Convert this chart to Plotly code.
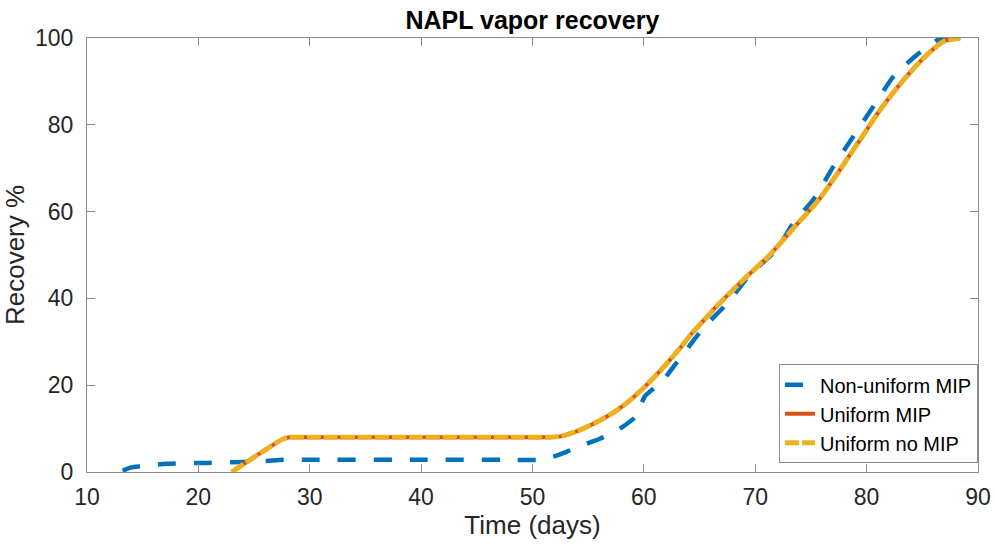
import plotly.graph_objects as go

# Non-uniform MIP
nu_x = [13.2, 13.9, 15.0, 17.2, 20.8, 24.0, 26.0, 27.6, 30.0, 40.0, 48.0, 50.5, 51.8, 53.0, 54.5,
        56.0, 57.2, 58.2, 59.2, 59.65, 60.1, 61.0, 61.75, 62.7, 63.7, 64.6, 65.6, 67.6,
        69.5, 71.9, 73.4, 75.2, 77.0, 78.8, 80.6, 82.4, 84.5, 86.6, 87.6]
nu_y = [0.3, 1.0, 1.4, 1.9, 2.1, 2.3, 2.5, 2.8, 2.8, 2.8, 2.8, 2.8, 3.5, 4.6, 6.2,
        7.6, 9.0, 10.6, 12.6, 15.0, 17.5, 19.5, 21.2, 24.4, 27.7, 30.8, 33.9, 39.2,
        45.4, 51.2, 57.3, 62.7, 70.3, 77.3, 84.2, 91.1, 96.1, 99.9, 100.3]

# Uniform MIP / Uniform no MIP (identical curves)
u_x = [23.0, 27.6, 28.2, 30.0, 40.0, 50.0, 51.5, 52.5, 54.0, 56.0, 57.4, 58.7, 59.95, 61.1,
       62.2, 63.3, 64.3, 65.4, 66.5, 68.9, 71.3, 73.4, 75.7, 78.2, 80.0, 81.2, 83.3, 85.4,
       86.9, 88.4]
u_y = [0.0, 7.6, 8.0, 8.0, 8.0, 8.0, 8.0, 8.2, 9.4, 11.8, 13.9, 16.4, 19.3, 22.3,
       25.4, 28.7, 31.9, 35.0, 38.1, 44.2, 50.0, 56.1, 62.7, 71.9, 78.8, 83.4, 90.3, 96.1,
       99.2, 100.0]

x_ticks = [10, 20, 30, 40, 50, 60, 70, 80, 90]
y_ticks = [0, 20, 40, 60, 80, 100]

fig = go.Figure()
fig.add_trace(go.Scatter(x=nu_x, y=nu_y, mode="lines", name="Non-uniform MIP",
                         line=dict(color="#0072BD", width=4.5, dash="18px,18px",
                                   shape="spline", smoothing=0.6)))
fig.add_trace(go.Scatter(x=u_x, y=u_y, mode="lines", name="Uniform MIP",
                         line=dict(color="#D95319", width=4, shape="spline", smoothing=0.6)))
fig.add_trace(go.Scatter(x=u_x, y=u_y, mode="lines", name="Uniform no MIP",
                         line=dict(color="#EDB120", width=5, dash="14px,3px",
                                   shape="spline", smoothing=0.6)))

axis_common = dict(showgrid=False, zeroline=False, showline=True, linecolor="#8c8c8c",
                   linewidth=1, mirror="ticks", ticks="inside", ticklen=8,
                   tickcolor="#8c8c8c", tickfont=dict(family="Arial", size=23, color="#262626"))

fig.update_xaxes(range=[10, 90], tickvals=x_ticks, ticklabelstandoff=4, automargin=False,
                 title=dict(text="Time (days)", font=dict(family="Arial", size=26, color="#262626"),
                            standoff=6),
                 **axis_common)
fig.update_yaxes(range=[0, 100], tickvals=y_ticks, ticklabelstandoff=8, automargin=True,
                 title=dict(text="Recovery %", font=dict(family="Arial", size=26, color="#262626"),
                            standoff=4),
                 **axis_common)

fig.update_layout(
    width=997, height=546,
    margin=dict(l=87, r=19, t=38, b=74),
    paper_bgcolor="white", plot_bgcolor="white",
    title=dict(text="<b>NAPL vapor recovery</b>", x=0.534, xanchor="center",
               y=0.963, yanchor="middle",
               font=dict(family="Arial", size=25, color="#000000")),
    legend=dict(x=1.0, xanchor="right", y=0.02, yanchor="bottom",
                bgcolor="white", bordercolor="#8c8c8c", borderwidth=1,
                font=dict(family="Arial", size=20, color="#000000"),
                itemwidth=30, tracegroupgap=0),
    showlegend=True,
)

fig.write_html("out.html")
